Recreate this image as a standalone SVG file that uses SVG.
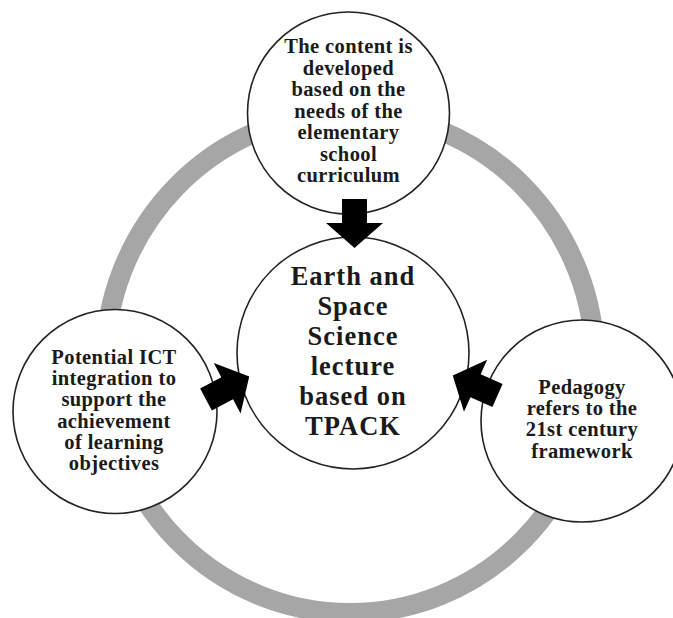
<svg xmlns="http://www.w3.org/2000/svg" width="673" height="618" viewBox="0 0 673 618">
  <defs>
    <style>
      .bg { fill: #ffffff; }
      .ring { fill: none; stroke: #a6a6a6; stroke-width: 20; }
      .node { fill: #ffffff; stroke: #222222; stroke-width: 1.6; }
      text { font-family: "Liberation Serif", "DejaVu Serif", serif; font-weight: bold; fill: #1a1a1a; text-anchor: middle; }
      .sm { font-size: 20.5px; letter-spacing: 0.4px; }
      .lg { font-size: 26.5px; letter-spacing: 1px; }
      .arrow { fill: #000000; }
    </style>
    <path id="blockArrow" d="M0,-12.5 L24,-12.5 L24,-28.5 L49,0 L24,28.5 L24,12.5 L0,12.5 Z"/>
  </defs>
  <rect class="bg" x="0" y="0" width="673" height="618"/>

  <g id="cycle-ring">
    <ellipse class="ring" cx="350" cy="363" rx="245" ry="250"/>
  </g>

  <g id="node-content">
    <circle class="node" cx="348.5" cy="113" r="101"/>
    <text class="sm" x="348.5" y="53">The content is</text>
    <text class="sm" x="348.5" y="74.5">developed</text>
    <text class="sm" x="348.5" y="96">based on the</text>
    <text class="sm" x="348.5" y="117.5">needs of the</text>
    <text class="sm" x="348.5" y="139">elementary</text>
    <text class="sm" x="348.5" y="160.5">school</text>
    <text class="sm" x="348.5" y="182">curriculum</text>
  </g>

  <g id="node-center">
    <circle class="node" cx="353" cy="353" r="116"/>
    <text class="lg" x="353" y="285">Earth and</text>
    <text class="lg" x="353" y="315">Space</text>
    <text class="lg" x="353" y="345">Science</text>
    <text class="lg" x="353" y="375">lecture</text>
    <text class="lg" x="353" y="405">based on</text>
    <text class="lg" x="353" y="435">TPACK</text>
  </g>

  <g id="node-technology">
    <circle class="node" cx="115" cy="411.5" r="102"/>
    <text class="sm" x="114" y="364">Potential ICT</text>
    <text class="sm" x="114" y="385.2">integration to</text>
    <text class="sm" x="114" y="406.4">support the</text>
    <text class="sm" x="114" y="427.6">achievement</text>
    <text class="sm" x="114" y="448.8">of learning</text>
    <text class="sm" x="114" y="470">objectives</text>
  </g>

  <g id="node-pedagogy">
    <circle class="node" cx="582" cy="421" r="101"/>
    <text class="sm" x="582" y="394">Pedagogy</text>
    <text class="sm" x="582" y="415.2">refers to the</text>
    <text class="sm" x="582" y="436.4">21st century</text>
    <text class="sm" x="582" y="457.6">framework</text>
  </g>

  <g id="connectors">
    <use href="#blockArrow" class="arrow" transform="translate(354.5,199) rotate(90)"/>
    <use href="#blockArrow" class="arrow" transform="translate(206,399.5) rotate(-28)"/>
    <use href="#blockArrow" class="arrow" transform="translate(497.5,395.5) rotate(204)"/>
  </g>
</svg>
